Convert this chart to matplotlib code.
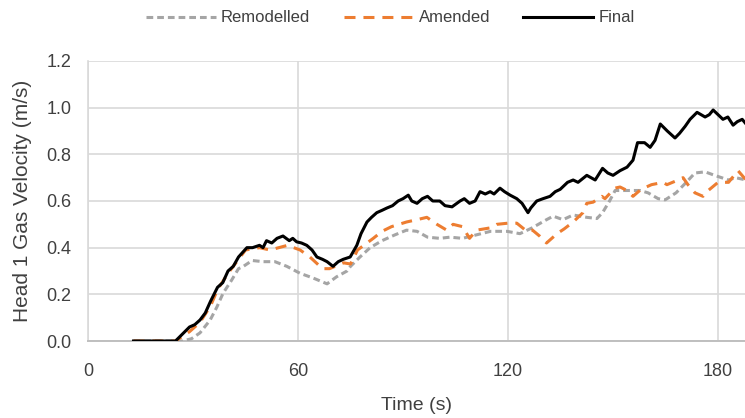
import matplotlib
matplotlib.use("Agg")
import matplotlib.pyplot as plt
from matplotlib.lines import Line2D

plt.rcParams['font.family'] = ['Liberation Sans Narrow', 'Liberation Sans', 'DejaVu Sans']

# Final (black)
t_final = [13, 25, 27, 29, 30.5, 32, 33.5, 35, 37, 38.5, 40, 41.5, 43, 45.4, 47, 49, 50, 51,
           52.5, 54, 55.7, 57.5, 58.5, 59.6, 61, 62.5, 64, 65.4, 67, 68.3, 70, 71.5, 72.9,
           74.9, 76.8, 78, 79.7, 81, 82.5, 84, 85.4, 87, 88.6, 90, 91.5, 92.5, 94, 95.5, 97,
           98.5, 100.5, 102, 104, 106.3, 107.5, 109, 110.6, 112, 113.5, 114.9, 116, 117.7,
           119, 120.6, 122.5, 124, 125.7, 126.5, 128.2, 130, 132, 133.5, 134.9, 137, 138.6,
           140, 142.5, 144.9, 147, 148.5, 150, 152, 154, 155.7, 157, 159, 160.6, 162,
           163.5, 165.5, 167.7, 169, 170.6, 172, 174, 176.3, 177.5, 178.6, 180, 181.4,
           182.8, 184.3, 185.5, 186.9, 188]
v_final = [0, 0, 0.03, 0.06, 0.07, 0.09, 0.12, 0.17, 0.23, 0.25, 0.30, 0.32, 0.36, 0.40,
           0.40, 0.41, 0.40, 0.43, 0.42, 0.44, 0.45, 0.43, 0.44, 0.425, 0.42, 0.41, 0.39,
           0.36, 0.35, 0.34, 0.32, 0.34, 0.35, 0.36, 0.41, 0.46, 0.51, 0.53, 0.55, 0.56,
           0.57, 0.58, 0.60, 0.61, 0.625, 0.60, 0.59, 0.61, 0.62, 0.60, 0.60, 0.58, 0.575,
           0.60, 0.61, 0.59, 0.60, 0.64, 0.63, 0.64, 0.63, 0.655, 0.64, 0.625, 0.61, 0.59,
           0.55, 0.57, 0.60, 0.61, 0.62, 0.64, 0.65, 0.68, 0.69, 0.68, 0.71, 0.69, 0.74,
           0.72, 0.71, 0.73, 0.745, 0.775, 0.85, 0.85, 0.83, 0.86, 0.93, 0.90, 0.87, 0.89,
           0.92, 0.95, 0.98, 0.96, 0.97, 0.99, 0.97, 0.95, 0.96, 0.925, 0.94, 0.95, 0.93]

# Amended (orange)
t_amended = [13, 25, 29, 32, 35, 37, 40, 43, 45, 49, 52, 57, 60.6, 63.4, 67, 69, 73, 75, 77,
             81.5, 84, 86.7, 91, 94, 96.8, 99.7, 102.5, 104.3, 107, 109, 111, 115, 116.8,
             120, 122.5, 125.4, 127, 129, 131, 134, 136, 138.6, 141.4, 142.5, 144.3, 146.8,
             147.7, 150.5, 152, 154, 155.7, 158, 161, 164.3, 165.4, 168.6, 170, 171.4,
             173.4, 175.7, 176.8, 180, 183, 185.7, 188]
v_amended = [0, 0, 0.04, 0.08, 0.15, 0.22, 0.29, 0.35, 0.39, 0.40, 0.39, 0.41, 0.39, 0.36,
             0.31, 0.31, 0.335, 0.33, 0.39, 0.44, 0.47, 0.49, 0.51, 0.52, 0.53, 0.50, 0.475,
             0.50, 0.49, 0.44, 0.475, 0.485, 0.50, 0.505, 0.505, 0.47, 0.475, 0.45, 0.42,
             0.46, 0.48, 0.51, 0.55, 0.59, 0.595, 0.62, 0.61, 0.655, 0.66, 0.645, 0.62, 0.65,
             0.67, 0.68, 0.67, 0.69, 0.70, 0.67, 0.635, 0.62, 0.64, 0.68, 0.68, 0.73, 0.69]

# Remodelled (grey)
t_remod = [13, 27, 29.6, 32, 34.9, 36.8, 38.6, 41, 43, 44.4, 46.9, 50, 53.4, 56.8, 60.6,
           64.3, 68.3, 71, 74, 75, 77.7, 80.6, 84, 87.7, 91, 94, 97, 100.5, 103.4, 107, 111,
           115, 119.7, 123.4, 126.9, 131, 132.9, 135.7, 138.6, 142.5, 145.4, 147, 149, 150.6,
           154, 157.7, 160, 162.9, 164.9, 168, 170.6, 173.4, 176.3, 179, 181, 183, 185, 188]
v_remod = [0, 0, 0.01, 0.035, 0.09, 0.145, 0.205, 0.26, 0.31, 0.32, 0.345, 0.34, 0.34, 0.32,
           0.29, 0.27, 0.245, 0.275, 0.30, 0.32, 0.36, 0.40, 0.43, 0.455, 0.475, 0.47, 0.445,
           0.44, 0.445, 0.44, 0.455, 0.47, 0.47, 0.46, 0.485, 0.52, 0.535, 0.52, 0.54, 0.53,
           0.525, 0.55, 0.60, 0.645, 0.645, 0.645, 0.635, 0.61, 0.605, 0.635, 0.675, 0.72,
           0.725, 0.71, 0.70, 0.69, 0.70, 0.69]

x_ticks = [0, 60, 120, 180]
y_ticks = [0.0, 0.2, 0.4, 0.6, 0.8, 1.0, 1.2]
labels = ['Remodelled', 'Amended', 'Final']

fig = plt.figure(figsize=(7.45, 4.18), dpi=100)
ax = fig.add_axes([88/745, 1 - 341/418, 1 - 88/745, 280/418])

grey = '#A5A5A5'
orange = '#ED7D31'
ax.plot(t_remod, v_remod, color=grey, lw=2.2, dashes=(2.2, 1.3), dash_capstyle='butt', zorder=3)
ax.plot(t_amended, v_amended, color=orange, lw=2.2, dashes=(3.6, 2.6), dash_capstyle='butt', zorder=4)
ax.plot(t_final, v_final, color='black', lw=2.2, zorder=5)

ax.set_xlim(0, 187.7)
ax.set_ylim(0, 1.2)
ax.set_xticks(x_ticks)
ax.set_yticks(y_ticks)
ax.set_yticklabels([f'{v:.1f}' for v in y_ticks])
ax.grid(True, color='#D9D9D9', lw=1.2)
ax.set_axisbelow(True)
ax.tick_params(length=0, labelsize=13, colors='#404040')
ax.tick_params(axis='x', pad=16)
ax.tick_params(axis='y', pad=12)
for s in ['top', 'right']:
    ax.spines[s].set_visible(False)
ax.spines['left'].set_color('#D9D9D9')
ax.spines['left'].set_linewidth(1.2)
ax.spines['bottom'].set_color('#BFBFBF')
ax.spines['bottom'].set_linewidth(1.4)

ax.set_xlabel('Time (s)', fontsize=14, color='#404040', labelpad=12)
ax.set_ylabel('Head 1 Gas Velocity (m/s)', fontsize=15, color='#404040', labelpad=10)

handles = [Line2D([], [], color=grey, lw=2.2, dashes=(2.2, 1.3)),
           Line2D([], [], color=orange, lw=2.2, dashes=(3.6, 2.6)),
           Line2D([], [], color='black', lw=2.2)]
fig.legend(handles, labels, loc='center', bbox_to_anchor=(0.524, 0.957), ncol=3,
           frameon=False, fontsize=12, handlelength=4.2, handletextpad=0.3,
           columnspacing=2.0, labelcolor='#404040')

fig.savefig('out.png', dpi=100)
